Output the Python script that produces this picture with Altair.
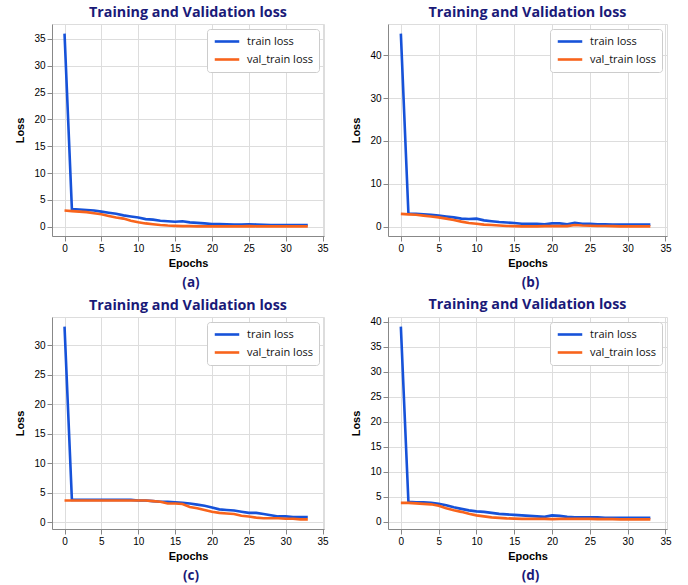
import altair as alt
import pandas as pd

epochs = list(range(34))

train_a = [36.0, 3.3, 3.2, 3.1, 3.0, 2.8, 2.6, 2.4, 2.1, 1.9, 1.7, 1.4, 1.3, 1.1, 1.0, 0.9, 1.0, 0.8, 0.7, 0.6,
           0.5, 0.5, 0.45, 0.4, 0.4, 0.45, 0.4, 0.35, 0.3, 0.3, 0.3, 0.3, 0.3, 0.3]
val_a = [3.0, 2.9, 2.8, 2.7, 2.5, 2.3, 2.0, 1.7, 1.5, 1.1, 0.8, 0.6, 0.45, 0.3, 0.2, 0.15, 0.1, 0.1, 0.05, 0.05,
         0.05, 0.05, 0.05, 0.05, 0.05, 0.1, 0.05, 0.05, 0.05, 0.05, 0.05, 0.05, 0.05, 0.05]

train_b = [45.0, 3.1, 3.0, 2.9, 2.8, 2.6, 2.4, 2.2, 1.9, 1.8, 1.9, 1.5, 1.3, 1.1, 1.0, 0.9, 0.7, 0.7, 0.7, 0.6,
           0.8, 0.8, 0.6, 0.9, 0.7, 0.7, 0.6, 0.6, 0.5, 0.5, 0.5, 0.5, 0.5, 0.5]
val_b = [3.0, 2.9, 2.8, 2.6, 2.4, 2.2, 1.9, 1.6, 1.2, 0.9, 0.7, 0.5, 0.4, 0.3, 0.2, 0.15, 0.1, 0.1, 0.1, 0.15,
         0.15, 0.15, 0.15, 0.4, 0.3, 0.25, 0.2, 0.2, 0.15, 0.1, 0.1, 0.1, 0.1, 0.1]

train_c = [33.2, 3.8, 3.8, 3.8, 3.8, 3.8, 3.8, 3.8, 3.8, 3.8, 3.7, 3.7, 3.6, 3.5, 3.5, 3.4, 3.3, 3.2, 3.0, 2.8,
           2.5, 2.2, 2.1, 2.0, 1.8, 1.6, 1.6, 1.4, 1.2, 1.0, 1.0, 0.9, 0.9, 0.9]
val_c = [3.7, 3.7, 3.7, 3.7, 3.7, 3.7, 3.7, 3.7, 3.7, 3.7, 3.7, 3.7, 3.6, 3.5, 3.2, 3.2, 3.1, 2.6, 2.4, 2.1,
         1.8, 1.6, 1.5, 1.4, 1.1, 1.0, 0.8, 0.7, 0.7, 0.7, 0.6, 0.6, 0.5, 0.5]

train_d = [39.0, 4.0, 3.9, 3.9, 3.8, 3.6, 3.3, 2.9, 2.6, 2.3, 2.1, 2.0, 1.8, 1.6, 1.5, 1.4, 1.3, 1.2, 1.1, 1.0,
           1.3, 1.2, 1.0, 0.9, 0.9, 0.9, 0.9, 0.8, 0.8, 0.8, 0.8, 0.8, 0.8, 0.8]
val_d = [3.8, 3.8, 3.7, 3.6, 3.5, 3.2, 2.7, 2.3, 2.0, 1.6, 1.3, 1.1, 0.9, 0.8, 0.7, 0.65, 0.6, 0.6, 0.6, 0.6,
         0.55, 0.6, 0.6, 0.6, 0.6, 0.6, 0.55, 0.55, 0.55, 0.5, 0.5, 0.5, 0.5, 0.5]

series_names = ["train loss", "val_train loss"]
series_colors = ["#1652d9", "#f8641c"]
captions = ["(a)", "(b)", "(c)", "(d)"]
y_ticks = [list(range(0, 36, 5)), list(range(0, 41, 10)), list(range(0, 31, 5)), list(range(0, 41, 5))]
x_ticks = list(range(0, 36, 5))

H = 212
FONT = "Open Sans"
NAVY = "#1a1a78"


def panel(train, val, caption, yt, W):
    df = pd.DataFrame({
        "Epochs": epochs * 2,
        "Loss": train + val,
        "series": [series_names[0]] * len(epochs) + [series_names[1]] * len(epochs),
    })
    ymax = max(train + val)
    ymin = min(train + val)
    pad = (ymax - ymin) * 0.05
    lines = alt.Chart(df).mark_line(strokeWidth=2.6).encode(
        x=alt.X("Epochs:Q",
                scale=alt.Scale(domain=[-1.7, 35.2], nice=False, zero=False),
                axis=alt.Axis(values=x_ticks, title="Epochs")),
        y=alt.Y("Loss:Q",
                scale=alt.Scale(domain=[ymin - pad, ymax + pad], nice=False, zero=False),
                axis=alt.Axis(values=yt, title="Loss", titlePadding=8)),
        color=alt.Color("series:N",
                        scale=alt.Scale(domain=series_names, range=series_colors),
                        legend=alt.Legend(title=None, orient="top-right", offset=5,
                                          fillColor="white", strokeColor="#cccccc",
                                          cornerRadius=3, padding=6,
                                          symbolType="stroke", symbolStrokeWidth=2.6,
                                          symbolSize=600, labelFontSize=11,
                                          labelFont=FONT, labelColor="#111111",
                                          clipHeight=13, rowPadding=5, labelOffset=6)),
        order="series:N",
    )
    cap = alt.Chart(pd.DataFrame({"t": [caption]})).mark_text(
        font=FONT, fontSize=13.5, fontWeight="bold", color=NAVY, baseline="middle", align="center"
    ).encode(x=alt.value(W / 2 + 3), y=alt.value(H + 47), text="t:N")
    return alt.layer(lines, cap).properties(
        width=W, height=H,
        title=alt.TitleParams("Training and Validation loss", fontSize=14.3, font=FONT,
                              fontWeight="bold", color=NAVY, offset=4),
    )


pa = panel(train_a, val_a, captions[0], y_ticks[0], 272)
pb = panel(train_b, val_b, captions[1], y_ticks[1], 279)
pc = panel(train_c, val_c, captions[2], y_ticks[2], 272)
pd_ = panel(train_d, val_d, captions[3], y_ticks[3], 279)

row1 = alt.hconcat(pa, pb, spacing=21).resolve_scale(color="independent").resolve_legend(color="independent")
row2 = alt.hconcat(pc, pd_, spacing=21).resolve_scale(color="independent").resolve_legend(color="independent")

chart = alt.vconcat(row1, row2, spacing=7).resolve_scale(
    color="independent"
).resolve_legend(color="independent").properties(
    padding={"left": 14, "top": 5, "right": 5, "bottom": 2}
).configure_view(
    stroke="#555555", strokeWidth=1
).configure_axis(
    grid=True, gridDash=[3, 3], gridColor="#d9d9d9", gridWidth=0.8,
    domain=False, tickColor="#333333", tickSize=4,
    labelFont=FONT, labelFontSize=12.5, labelColor="#111111",
    titleFont=FONT, titleFontSize=12, titleFontWeight="bold", titleColor="#111111",
    labelPadding=3, titlePadding=4,
).configure(background="white")

chart.save("out.html", embed_options={"renderer": "svg", "actions": False})
